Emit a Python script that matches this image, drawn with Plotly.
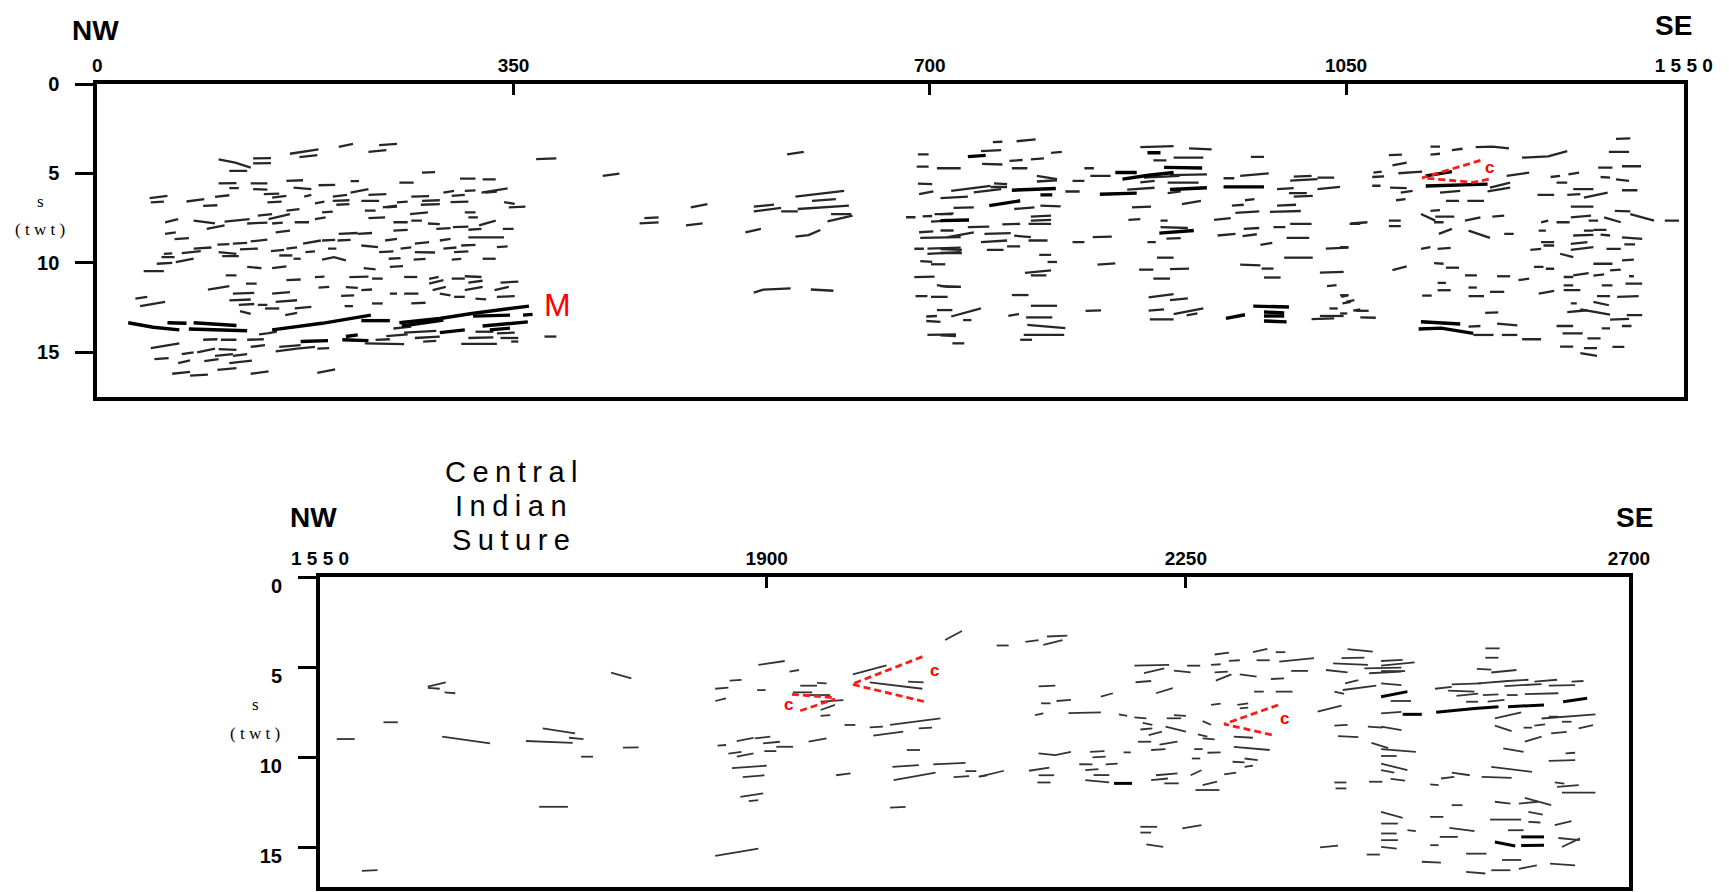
import plotly.graph_objects as go

# ---------------- DATA (distance along profile, two-way time in s) ----------------
# each reflector: x0, t0, x1, t1[, x2, t2, ...]

top_nw = [
    (162,3.90,186,3.66),(170,4.09,185,3.98),(203,3.51,215,3.35),(228,3.79,243,3.70),(237,3.42,252,3.35),
    (102,4.22,116,4.4,129,4.68),(111,4.86,126,4.86),(131,4.16,146,4.14),(131,4.44,146,4.42),(273,4.96,284,4.93),
    (369,4.20,386,4.16),(102,5.56,117,5.54),(111,5.82,119,5.82),(129,5.56,143,5.56),(131,5.88,143,5.91),
    (159,5.42,173,5.38),(165,5.79,180,5.88),(186,5.66,200,5.64),(213,5.43,220,5.43),(254,5.51,266,5.51),
    (305,5.29,318,5.29),(324,5.33,335,5.33),(323,6.07,345,5.83),(44,6.38,59,6.25),(45,6.62,56,6.58),
    (75,6.57,90,6.44),(89,6.81,101,6.78),(99,6.31,111,6.22),(140,6.16,153,6.13),(143,6.62,155,6.58),
    (147,6.35,159,6.25),(174,6.3,180,6.2),(183,6.68,191,6.58),(198,6.53,212,6.5),(198,6.3,210,6.2),
    (201,6.75,212,6.72),(213,6.07,228,5.88),(222,6.53,237,6.53),(228,6.2,243,6.16),(243,6.9,252,6.86),
    (252,6.62,261,6.58),(264,6.3,279,6.27),(273,6.53,288,6.5),(272,6.75,288,6.72),(291,6.07,300,5.98),
    (298,6.25,309,6.2),(297,6.6,312,6.58),(309,5.98,318,5.95),(326,6.07,336,6.01),(342,6.6,351,6.7),
    (346,6.9,360,6.86),
    (57,7.73,68,7.55),(81,7.64,99,7.79),(92,8.1,107,7.9),(107,7.69,128,7.55),(126,7.8,143,7.75),
    (135,7.36,147,7.27),(144,7.55,162,7.27),(147,7.8,156,7.75),(159,7.08,170,7.0),(150,8.3,162,8.2),
    (166,7.73,178,7.73),(183,7.55,192,7.46),(189,7.18,198,7.14),(225,7.08,234,7.08),(228,7.5,242,7.46),
    (240,6.9,252,6.8),(249,7.73,261,7.73),(263,7.27,278,7.18),(264,7.64,273,7.64),(278,7.8,288,7.83),
    (285,8.1,297,8.06),(299,8.0,312,7.97),(309,7.18,318,7.18),(312,7.46,320,7.46),(312,8.15,323,8.1),
    (321,7.9,335,7.64),(341,8.1,350,8.1),(57,8.38,66,8.29),(65,8.67,77,8.62),(101,8.98,111,8.95),
    (114,8.93,126,8.88),(129,8.8,143,8.7),
    (56,9.5,63,9.47),(54,9.68,65,9.68),(71,9.46,87,9.35),(81,9.2,96,9.14),(66,9.96,81,9.77),
    (50,10.05,63,10.0),(39,10.46,56,10.46),(102,9.4,117,9.5),(105,9.62,119,9.62),(120,9.25,135,9.2),
    (146,9.35,157,9.27),(153,9.59,164,9.59),(159,9.2,168,9.14),(165,9.77,171,9.77),(173,8.93,188,8.75),
    (175,9.4,183,9.36),(189,8.75,200,8.71),(194,9.2,201,9.2),(203,8.38,219,8.33),(202,8.75,213,8.71),
    (189,9.82,199,9.68,209,9.86),(219,8.38,231,8.33),(222,9.03,236,9.12),(242,8.75,252,8.66),(237,9.4,249,9.36),
    (245,9.77,255,9.73),(249,8.2,261,8.16),(255,9.2,264,9.14),(267,8.93,279,8.84),(266,9.82,276,9.78),
    (267,9.4,284,9.42),(288,8.75,297,8.66),(291,9.2,302,9.14),(298,9.82,306,9.78),(300,9.4,312,9.36),
    (306,9.03,318,8.99),(312,8.57,342,8.57),(324,9.77,335,9.77),(336,9.12,345,9.08),
    (108,10.7,117,10.7),(126,10.23,138,10.29),(147,10.3,159,10.2),(159,10.97,171,10.93),(183,10.8,191,10.77),
    (212,10.8,228,10.77),(224,10.3,234,10.36),(231,10.88,240,10.88),(246,10.23,257,10.18),(258,10.79,269,10.79),
    (279,10.9,287,10.79),(298,10.88,309,10.88),(309,10.75,323,10.79),(312,11.1,324,11.0),
    (93,11.5,111,11.3),(32,12.0,42,11.9),(36,12.42,57,12.18),(114,11.72,132,11.68),(111,12.1,129,12.05),
    (119,12.35,132,12.3),(120,12.7,129,12.85),(125,11.16,134,11.16),(135,12.35,143,12.35),(141,12.55,153,12.55),
    (147,11.72,162,11.64),(150,12.18,168,12.09),(158,12.92,168,12.79),(166,12.55,180,12.46),(186,11.38,195,11.34),
    (205,11.85,216,11.82),(208,12.42,215,12.42),(209,11.36,219,11.4),(222,11.53,231,11.49),(231,12.27,240,12.27),
    (246,11.72,252,11.72),(258,11.72,270,11.72),(264,12.27,276,12.23),(282,11.53,293,11.34),(279,11.16,291,10.97),
    (288,11.72,297,11.82),(300,11.9,309,11.9),(309,11.53,324,11.34),(318,12.0,327,12.04),(334,11.53,346,11.34),
    (339,11.1,354,11.05),(336,11.9,351,11.86),
    (136,14.0,143,13.94),(249,13.67,264,13.57),(258,13.9,285,13.8),(243,14.1,261,14.0),(234,14.31,246,14.27),
    (225,14.5,258,14.54),(267,14.2,288,14.12),(274,14.4,285,14.36),(318,13.85,333,13.85),(336,13.94,351,13.9),
    (312,14.2,333,14.17),(306,14.53,336,14.53),(339,14.2,354,14.2),(348,14.4,354,14.4),(376,14.12,386,14.12),
    (89,14.3,101,14.27),(104,14.3,117,14.3),(126,14.3,140,14.27),(143,13.94,151,13.85),(45,14.77,69,14.5),
    (48,15.38,60,15.33),(68,15.6,78,15.45),(71,15.1,81,15.0),(84,15.0,99,14.8),(90,15.5,102,15.38),
    (99,15.2,114,15.1),(102,14.82,117,14.86),(111,15.6,130,15.47),(114,15.2,126,15.1),(129,14.7,141,14.6),
    (150,14.95,168,14.8),(153,14.7,171,14.6),(168,14.8,183,14.7),(185,14.8,195,14.77),(63,16.2,78,16.1),
    (78,16.3,93,16.25),(101,15.98,117,15.88),(129,16.2,144,16.07),(185,16.15,200,15.95),
]

top_moho = [
    (26,13.35,47,13.6,69,13.75),(59,13.35,75,13.38),(81,13.35,117,13.5),(77,13.7,126,13.8),
    (147,13.75,189,13.38,230,12.92),(222,13.23,246,13.23),(254,13.35,288,13.11,315,12.83,363,12.42),
    (256,13.53,291,13.2),(316,12.98,347,12.92),(324,13.53,346,13.38,362,13.3),(330,13.75,347,13.65),
    (358,12.92,366,12.88),(171,14.4,194,14.35),(206,14.3,228,14.35),(209,14.12,219,14.03),(288,13.9,309,13.75),
]

top_mid = [
    (425,5.14,439,5.01),(456,7.79,472,7.74),(460,7.5,472,7.46),(499,6.9,513,6.71),(495,7.9,509,7.79),
    (580,3.94,594,3.79),(552,6.86,569,6.75),(552,7.12,575,6.93),(575,7.12,589,7.12),(587,6.3,628,5.97),
    (601,6.53,621,6.44),(589,6.99,632,6.8),(617,7.27,634,7.27),(614,7.68,635,7.36),(545,8.29,558,8.1),
    (587,8.53,598,8.45,608,8.16),(552,11.66,560,11.5,583,11.43),(600,11.49,619,11.56),
]

top_c1 = [
    (690,3.94,699,3.94),(689,4.62,699,4.62),(706,4.71,726,4.71),(690,5.57,702,5.6),(691,6.16,703,6.0),
    (680,7.45,688,7.45),(694,7.4,702,7.38),(701,7.7,726,7.6),(704,7.27,719,7.27),(691,8.29,703,8.24),
    (692,8.6,726,8.56),(687,9.21,695,9.21),(698,9.5,726,9.4),(698,9.2,726,9.15),(692,9.9,702,9.95),
    (701,10.08,713,10.08),(687,10.8,704,10.77),(706,11.25,715,11.34,726,11.34),(688,11.86,698,11.86),
    (701,11.9,715,11.9),(706,12.64,719,12.64),(697,13.0,706,12.97),(697,13.25,709,13.3),(698,14.03,722,14.0),
    (719,14.5,729,14.5),(753,3.25,761,3.23),(773,3.2,789,3.1),(743,3.75,760,3.7),(744,4.47,761,4.5),
    (767,4.3,778,4.25),(785,4.21,796,4.16),(802,3.85,811,3.79),(769,4.71,782,4.71),(790,5.14,807,5.32),
    (790,5.45,807,5.38),(754,5.56,765,5.6),(718,5.97,751,5.7),(737,6.06,760,5.88),(751,5.76,765,5.76),
    (720,6.93,737,6.9),(709,6.38,732,6.3),(771,6.99,788,6.9),(793,6.8,810,6.84),(709,7.27,720,7.23),
    (732,8.0,750,7.97),(761,7.85,776,7.82),(785,7.42,802,7.36),(785,7.64,802,7.6),(709,8.19,720,8.19),
    (715,8.56,737,8.29),(746,8.38,768,8.34),(743,8.84,765,8.75),(771,8.48,785,8.56),(783,8.75,799,8.75),
    (765,9.08,776,9.08),(748,9.27,762,9.27),(709,9.23,727,9.27),(709,9.45,727,9.45),(792,9.55,802,9.55),
    (799,9.95,807,9.95),(780,10.56,802,10.42),(785,10.7,798,10.7),(709,11.3,726,11.34),(769,11.8,783,11.8),
    (718,13.0,743,12.55),(728,13.2,735,13.2),(709,14.05,722,14.1),(766,12.97,775,12.86),(785,12.4,807,12.4),
    (781,13.05,803,13.05),(782,13.47,814,13.65),(779,14.03,813,14.03),(776,14.3,786,14.3),(820,8.84,830,8.84),
    (837,8.56,853,8.53),(831,12.68,844,12.66),(841,10.1,856,10.03),(820,5.42,830,5.42),(814,6.01,826,6.01),
    (830,4.71,838,4.71),(835,5.14,852,5.14),(783,7.82,802,7.82),
]

top_c2 = [
    (866,5.9,889,5.8),(877,5.5,889,5.42),(877,3.53,905,3.47),(918,3.6,937,3.66),(888,4.27,899,4.27),
    (905,4.12,930,4.12),(902,5.1,933,5.05),(880,5.23,910,5.14),(900,5.51,926,5.51),(900,6.1,911,6.0),
    (912,6.71,928,6.53),(870,6.9,886,6.86),(867,7.6,877,7.56),(894,7.64,900,7.64),(894,8.0,917,8.05),
    (883,8.84,890,8.84),(899,8.64,911,8.62),(891,9.71,905,9.71),(876,10.38,888,10.38),(902,10.35,918,10.32),
    (888,10.88,902,10.88),(884,11.93,905,11.75),(902,12.08,917,11.99),(884,12.67,897,12.6),(905,12.86,930,12.55),
    (916,12.93,925,12.82),(885,13.16,905,13.16),(947,5.27,956,5.27),(961,5.14,985,5.0),(970,4.08,981,4.08),
    (992,5.88,1006,5.82),(1003,5.4,1026,5.32),(1006,5.18,1021,5.14),(1026,5.23,1040,5.23),(1002,6.1,1017,6.1),
    (1006,6.3,1022,6.25),(1026,5.88,1045,5.75),(954,6.8,964,6.75),(965,6.5,973,6.44),(957,7.2,977,7.12),
    (986,7.15,1012,7.1),(992,6.8,1008,6.75),(939,7.6,953,7.5),(1003,7.82,1021,7.82),(989,8.0,999,8.0),
    (942,8.47,957,8.38),(963,8.5,975,8.4),(964,8.1,977,8.05),(1000,8.6,1019,8.6),(978,9.0,988,8.88),
    (1033,9.2,1052,9.15),(1053,7.82,1062,7.82),(998,9.71,1022,9.71),(961,10.1,978,10.14),(979,10.32,989,10.32),
    (981,10.82,995,10.82),(1028,10.55,1048,10.5),(1034,11.3,1042,11.25),(1021,13.15,1040,13.1),
    (1028,12.97,1048,12.97),(1036,12.55,1043,12.55),(1047,12.27,1054,12.18),(1046,11.9,1052,11.8),
    (1056,12.67,1062,12.6),
]

top_c_thick = [
    (732,4.06,747,3.99),(709,7.64,733,7.6),(769,5.94,806,5.84),(793,6.2,803,6.2),(750,6.8,776,6.53),
    (856,4.95,874,4.95),(862,5.32,884,5.1,905,4.95),(843,6.16,874,6.1),(883,3.84,894,3.84),
    (897,4.66,929,4.7),(902,5.9,933,5.8),(893,8.34,922,8.19),(947,5.75,981,5.75),
    (949,13.1,965,12.9),(972,12.42,1002,12.47),(981,12.75,998,12.8),(981,12.97,998,12.97),(981,13.25,1000,13.3),
]

top_se = [
    (1086,3.98,1097,3.95),(1121,3.5,1129,3.5),(1121,3.95,1129,3.9),(1139,3.7,1148,3.62),(1159,3.53,1173,3.5,1187,3.6),
    (1198,4.12,1220,4.05,1236,3.75),(1277,3.07,1289,3.04),(1271,3.79,1288,3.79),(1089,4.55,1101,4.4),
    (1094,4.99,1114,4.9),(1073,4.96,1080,4.9),(1072,5.2,1082,5.17),(1072,5.69,1079,5.69),(1087,5.79,1101,5.82),
    (1096,6.07,1106,5.98),(1092,6.5,1100,6.44),(1129,6.07,1146,5.98),(1134,6.53,1145,6.53),(1152,6.53,1166,6.53),
    (1169,6.0,1188,5.79),(1171,5.79,1188,5.51),(1185,5.14,1204,4.96),(1211,6.2,1225,6.2),(1222,5.2,1230,5.14),
    (1227,5.51,1236,5.51),(1237,5.05,1246,4.96),(1236,6.2,1247,6.16),(1241,5.88,1258,5.88),(1250,6.35,1270,6.07),
    (1262,4.68,1274,4.68),(1282,4.6,1298,4.6),(1264,5.2,1272,5.23),(1277,5.33,1288,5.42),(1282,5.94,1295,5.94),
    (1239,6.86,1258,6.86),(1239,7.46,1256,7.36),(1254,7.64,1262,7.64),(1267,7.46,1281,7.73),(1276,7.09,1289,7.12),
    (1289,7.27,1309,7.64),(1318,7.64,1330,7.64),(1054,7.8,1068,7.73),(1086,7.64,1096,7.64),(1086,7.95,1096,7.95),
    (1121,7.09,1129,7.05),(1113,7.27,1125,7.64),(1125,7.42,1141,7.42),(1124,7.73,1132,7.73),(1150,7.64,1163,7.46),
    (1173,7.42,1183,7.36),(1128,8.38,1139,8.1),(1153,8.2,1171,8.6),(1183,8.38,1191,8.38),(1113,9.22,1121,9.12),
    (1127,9.22,1138,9.16),(1045,9.12,1052,9.12),(1089,10.4,1101,10.2),(1124,10.01,1132,10.05),(1134,10.27,1145,10.27),
    (1150,10.7,1160,10.7),(1177,10.75,1188,10.75),(1195,10.97,1204,10.88),(1127,11.12,1134,11.12),(1114,11.83,1122,11.83),
    (1127,11.53,1138,11.53),(1153,11.38,1160,11.38),(1153,11.86,1166,11.86),(1171,11.62,1183,11.62),(1212,11.72,1225,11.57),
    (1233,11.26,1241,11.26),(1233,11.53,1247,11.53),(1239,12.27,1244,12.27),(1236,12.75,1253,12.65),(1247,12.6,1272,12.9),
    (1258,12.18,1271,12.37),(1261,11.86,1272,11.86),(1278,11.9,1296,11.86),(1285,11.16,1299,11.16),(1288,10.75,1292,10.75),
    (1265,11.26,1274,11.26),(1258,10.71,1267,10.64),(1272,10.42,1281,10.38),(1282,9.86,1292,9.82),(1258,10.05,1274,10.05),
    (1269,9.22,1281,9.22),(1284,8.97,1293,8.97),(1282,8.57,1299,8.66),(1264,8.42,1272,8.47),(1258,8.16,1269,8.16),
    (1250,8.2,1258,8.2),(1241,8.47,1258,8.44),(1239,8.94,1253,8.84),(1239,9.27,1258,9.12),(1230,9.49,1241,9.68),
    (1205,9.27,1214,9.22),(1216,9.03,1225,9.03),(1214,8.84,1225,8.84),(1214,7.73,1220,7.64),(1227,7.73,1238,7.73),
    (1212,8.2,1218,8.2),(1218,10.33,1225,10.33),(1208,10.23,1216,10.23),(1233,10.79,1241,10.79),(1241,10.7,1254,10.57),
    (1286,12.92,1299,12.92),(1272,13.17,1288,13.13),(1282,13.53,1290,13.53),(1265,13.66,1272,13.66),(1227,13.53,1241,13.53),
    (1232,13.94,1249,13.94),(1253,14.22,1264,14.22),(1230,14.68,1241,14.68),(1250,14.77,1261,14.77),(1274,14.7,1284,14.7),
    (1247,15.05,1261,15.2),(1157,14.03,1174,14.03),(1181,14.03,1194,14.03),(1198,14.27,1214,14.27),(1153,13.57,1163,13.53),
    (1177,13.4,1194,13.49),(1167,12.8,1178,12.77),(1045,11.81,1052,11.81),(1050,12.18,1057,12.09),(1058,12.68,1069,12.68),
    (1062,13.05,1075,13.07),(1045,12.83,1051,12.83),
]

top_se_thick = [
    (1113,13.29,1146,13.42),(1111,13.7,1130,13.65,1157,13.94),(1117,5.14,1139,4.9),(1117,5.7,1169,5.6),
]

top_wedge = [(1163,4.27,1114,5.25,1157,5.5,1173,5.27)]

bot_w = [
    (1541,8.99,1556,8.99),(1580,8.06,1592,8.06),(1617,6.08,1632,5.84),(1617,6.15,1627,6.2),(1631,6.4,1640,6.45),
    (1629,8.86,1647,9.04,1669,9.23),(1699,9.1,1738,9.2),(1713,8.4,1740,8.68),(1735,8.92,1747,9.0),
    (1710,12.75,1734,12.75),(1562,16.3,1575,16.26),(1745,9.97,1755,9.97),(1780,9.47,1793,9.45),(1770,5.3,1787,5.62),
]

bot_mid = [
    (1893,4.88,1915,4.66),(1919,5.25,1927,5.16),(1869,5.75,1879,5.71),(1857,6.2,1868,6.14),(1857,6.88,1866,6.73),
    (1892,6.28,1899,6.27),(1928,6.03,1942,6.03),(1942,5.87,1950,5.9),(1922,6.4,1938,6.4),(1934,6.55,1953,6.55),
    (1945,6.92,1964,6.83),(1945,7.38,1957,7.1),(1945,7.7,1953,7.66),(1972,5.4,2000,4.9),(1986,5.85,2030,6.2),
    (2018,5.8,2031,5.85),(2049,3.5,2063,3.0),(1965,8.21,1974,8.21),(1986,8.34,1997,8.3),(2003,8.2,2045,7.84),
    (1989,8.8,2014,8.58),(2027,8.4,2038,8.36),(1859,9.36,1866,9.32),(1875,9.1,1889,8.92),(1890,8.95,1903,8.86),
    (1897,9.23,1911,9.14),(1908,9.42,1922,9.42),(1868,9.8,1879,9.7),(1875,9.97,1889,9.79),(1898,9.66,1908,9.66),
    (1935,9.14,1950,8.95),(1871,10.6,1900,10.47),(1880,11.1,1898,11.0),(1878,12.2,1897,12.0),(1885,12.44,1893,12.38),
    (1857,15.47,1880,15.2,1893,15.07),(1958,11.0,1970,10.9),(2017,9.6,2028,9.6),(2005,10.53,2027,10.44),
    (2006,11.27,2041,10.85),(2039,10.4,2066,10.31),(2056,11.1,2069,11.05),(2066,10.77,2075,10.77),(2077,11.08,2084,11.0),
    (2003,12.8,2016,12.75),
]

bot_ce = [
    (2092,3.8,2102,3.8),(2116,3.6,2127,3.5),(2131,3.77,2147,3.5),(2134,3.3,2151,3.25),(2207,4.92,2236,4.88),
    (2215,5.34,2232,5.07),(2240,5.2,2254,5.29),(2251,4.92,2262,4.92),(2208,5.84,2221,5.77),(2225,6.45,2239,6.17),
    (2271,4.88,2279,4.84),(2274,4.3,2286,4.2),(2286,4.65,2295,4.62),(2274,5.29,2285,5.25),(2275,5.75,2288,5.4),
    (2295,5.4,2309,5.53),(2306,4.17,2318,3.99),(2309,4.62,2320,4.62),(2321,5.66,2332,5.62),(2325,4.17,2333,4.17),
    (2328,4.7,2357,4.5),(2338,5.21,2352,5.21),(2307,6.36,2315,6.36),(2325,6.36,2339,6.36),(2127,6.07,2141,6.03),
    (2129,7.01,2137,7.01),(2142,6.88,2154,6.82),(2124,7.66,2131,7.57),(2152,7.55,2179,7.51),(2179,6.64,2189,6.45),
    (2194,7.62,2201,7.7),(2207,7.79,2217,7.84),(2214,8.1,2222,8.21),(2212,8.46,2222,8.4),(2219,8.77,2230,8.58),
    (2210,9.14,2221,9.14),(2221,9.6,2233,9.55),(2228,9.3,2243,9.14),(2233,8.3,2250,8.58),(2234,7.84,2246,7.84),
    (2240,7.66,2250,7.7),(2264,8.0,2271,8.2),(2260,8.73,2268,8.86),(2264,8.95,2274,9.01),(2271,7.1,2279,7.03),
    (2293,7.1,2302,7.01),(2295,7.29,2302,7.25),(2257,9.55,2264,9.55),(2255,10.07,2262,10.07),(2268,9.75,2279,9.73),
    (2290,8.86,2306,8.92),(2290,9.42,2320,9.6),(2289,10.25,2299,10.29),(2299,10.07,2310,10.16),(2299,10.53,2306,10.47),
    (2282,10.95,2292,10.86),(2254,11.0,2263,10.72),(2258,11.82,2278,11.82),(2264,11.55,2276,11.36),(2221,11.27,2235,11.18),
    (2225,11.0,2243,10.9),(2232,11.45,2244,11.45),(2198,9.73,2204,9.73),(2170,9.7,2182,9.66),(2172,10.01,2183,9.97),
    (2161,10.39,2172,10.4),(2166,10.71,2177,10.66),(2183,10.4,2193,10.36),(2173,10.99,2186,10.99),(2166,11.27,2186,11.4),
    (2127,9.79,2141,9.88,2154,9.7),(2119,10.75,2136,10.58),(2127,11.0,2140,11.0),(2126,11.4,2137,11.4),(2078,11.08,2098,10.75),
    (2212,13.86,2226,13.86),(2212,14.18,2221,14.18),(2217,14.84,2231,14.97),(2247,13.95,2263,13.77),(2362,15.0,2377,14.9),
    (2401,15.4,2412,15.4),(2385,4.0,2406,4.14),(2380,4.5,2399,4.47),(2373,4.79,2402,4.88),(2367,5.16,2385,5.29),
    (2399,5.07,2430,5.03),(2403,5.34,2430,5.25),(2383,5.9,2394,5.72),(2381,6.27,2409,6.03),(2374,6.36,2382,6.49),
    (2360,7.47,2380,7.14),(2374,8.25,2385,8.21),(2377,8.83,2394,8.88),(2402,8.3,2414,8.36),(2405,9.2,2419,9.5),
    (2403,11.36,2414,11.36),(2374,11.4,2384,11.4),(2375,11.73,2384,11.73),
]

bot_e = [
    (2500,3.96,2512,3.96),(2500,4.48,2511,4.48),(2493,5.1,2505,5.14),(2505,5.3,2526,5.16),(2413,4.66,2431,4.6),
    (2413,4.92,2441,4.74),(2413,5.22,2433,5.22),(2413,5.9,2430,6.0),(2421,6.88,2438,6.88),(2413,7.57,2430,7.48),
    (2458,6.2,2472,6.1),(2469,6.3,2491,6.36),(2472,5.96,2497,5.9),(2494,5.9,2519,5.77),(2516,6.05,2547,5.94),
    (2519,5.77,2536,5.7),(2541,5.8,2560,5.7),(2553,6.03,2575,6.0),(2572,5.8,2582,5.77),(2476,6.6,2494,6.47),
    (2498,6.55,2511,6.51),(2518,6.55,2527,6.55),(2533,6.5,2561,6.45),(2484,6.92,2494,6.92),(2502,6.92,2516,6.82),
    (2508,7.85,2530,7.51),(2547,7.85,2592,7.62),(2553,7.75,2561,7.75),(2564,8.03,2572,8.03),(2508,8.25,2522,8.55),
    (2532,8.36,2539,8.36),(2541,8.25,2550,8.18),(2555,8.68,2568,8.59),(2578,8.4,2590,8.22),(2533,9.14,2547,8.86),
    (2515,9.51,2532,9.7),(2553,10.2,2575,10.16),(2567,9.79,2575,9.75),(2505,10.53,2539,10.81),(2497,11.09,2522,11.14),
    (2463,11.18,2474,11.09),(2472,10.85,2487,11.0),(2454,11.51,2461,11.55),(2558,11.4,2566,11.46),(2560,11.65,2578,11.55),
    (2564,11.96,2592,11.96),(2472,12.66,2481,12.66),(2508,12.47,2521,12.57),(2528,12.57,2544,12.47),(2533,12.25,2555,12.66),
    (2536,13.03,2548,13.18),(2454,13.31,2465,13.31),(2504,13.46,2530,13.46),(2536,13.59,2546,13.62),(2558,13.77,2572,13.55),
    (2470,13.92,2491,14.1),(2435,14.05,2442,14.1),(2519,14.05,2532,14.05),(2462,14.42,2477,14.42),(2454,14.88,2461,14.88),
    (2484,15.35,2501,15.35),(2514,15.7,2530,15.7),(2447,15.8,2463,15.85),(2505,16.27,2521,16.27),(2528,16.2,2543,16.0),
    (2554,15.9,2575,16.0),(2484,16.36,2500,16.45),(2413,8.3,2430,8.5),(2413,9.55,2442,9.7),(2413,9.93,2426,9.93),
    (2413,10.35,2435,10.72),(2413,10.72,2424,10.85),(2421,11.2,2433,11.3),(2413,13.03,2431,13.36),(2413,13.68,2427,13.68),
    (2413,14.23,2426,14.23),(2413,14.6,2427,14.6),(2413,14.97,2426,15.07),(2564,14.98,2579,14.5),(2561,14.48,2579,14.6),
]

bot_thick = [
    (2190,11.45,2205,11.45),(2413,6.64,2435,6.36),(2431,7.62,2447,7.62),(2459,7.51,2491,7.29,2511,7.2),
    (2519,7.2,2549,7.1),(2565,6.92,2585,6.73),(2508,14.7,2525,14.92),(2530,14.42,2549,14.42),(2530,14.9,2549,14.88),
]

bot_wedges = [
    (1921,6.51,1957,6.7),(1928,7.42,1957,6.77),
    (2030,4.42,1971,5.95,2032,6.92),
    (2327,7.1,2282,8.16,2325,8.81),
]

top_ticks = [0, 350, 700, 1050, 1334]
top_ticktext = ["0", "350", "700", "1050", "1 5 5 0"]
bot_ticks = [1527, 1900, 2250, 2620]
bot_ticktext = ["1 5 5 0", "1900", "2250", "2700"]
twt_ticks = [0, 5, 10, 15]
c_labels_top = [(1171, 4.68)]
c_labels_bot = [(1918, 7.1), (2040, 5.16), (2332, 7.84)]

# ---------------- FIGURE ----------------
# page body keeps an 8px margin; the figure fills the rest of the 1729x892 window
OFF = 8
W, H = 1729 - 2 * OFF, 892 - OFF


def px(v):
    return (v - OFF) / W


def py(v):
    return 1 - (v - OFF) / H


def xy(groups):
    xs, ys = [], []
    for segs in groups:
        for s in segs:
            xs.extend(s[0::2]); ys.extend(s[1::2])
            xs.append(None); ys.append(None)
    return xs, ys


fig = go.Figure()


def add(groups, color, width, xa, ya, dash="solid"):
    x, y = xy(groups)
    fig.add_trace(go.Scatter(x=x, y=y, mode="lines", xaxis=xa, yaxis=ya,
                             line=dict(color=color, width=width, dash=dash),
                             hoverinfo="skip", showlegend=False))


add([top_nw, top_mid, top_c1, top_c2, top_se], "#262626", 2.3, "x", "y")
add([top_moho, top_c_thick, top_se_thick], "#000000", 3.4, "x", "y")
add([top_wedge], "#ff1a1a", 2.8, "x", "y", dash="7px,4px")
add([bot_w, bot_mid, bot_ce, bot_e], "#333333", 1.8, "x2", "y2")
add([bot_thick], "#000000", 3.0, "x2", "y2")
add([bot_wedges], "#ff1a1a", 2.8, "x2", "y2", dash="7px,4px")

FONT = "Arial, Liberation Sans, sans-serif"
tickfont = dict(family=FONT, size=19, color="black", weight="bold")

common_x = dict(showline=True, linewidth=4, linecolor="black", mirror=True, showgrid=False,
                zeroline=False, side="top", ticks="inside", ticklen=11, tickwidth=2.5,
                tickcolor="black", tickfont=tickfont)
common_y = dict(showline=True, linewidth=4, linecolor="black", mirror=True, showgrid=False,
                zeroline=False, ticks="outside", ticklen=18, tickwidth=3, tickcolor="black",
                tickvals=twt_ticks, ticktext=[str(v) for v in twt_ticks],
                tickfont=dict(family=FONT, size=20, color="black", weight="bold"),
                ticklabelstandoff=12)

fig.update_layout(
    width=W, height=H, margin=dict(l=0, r=0, t=0, b=0, pad=0, autoexpand=False),
    paper_bgcolor="white", plot_bgcolor="white",
    xaxis=dict(domain=[px(97.3), px(1683.8)], range=[0, 1334], anchor="y", automargin=False,
               tickvals=top_ticks, ticktext=top_ticktext, **common_x),
    yaxis=dict(domain=[py(397), py(84)], range=[17.5, 0], anchor="x", automargin=False,
               **common_y),
    xaxis2=dict(domain=[px(320), px(1629)], range=[1527, 2620], anchor="y2", automargin=False,
                tickvals=bot_ticks, ticktext=bot_ticktext, **common_x),
    yaxis2=dict(domain=[max(0, py(887)), py(577)], range=[17.2, 0], anchor="x2", automargin=False,
                ticklabelshift=-9, **common_y),
)

ann = []


def label(text, x, y, size, bold=False, color="black", family=FONT, yanchor="middle"):
    ann.append(dict(text=text, x=px(x), y=min(1, py(y)), xref="paper", yref="paper",
                    showarrow=False, xanchor="center", yanchor=yanchor,
                    font=dict(family=family, size=size, color=color,
                              weight="bold" if bold else "normal")))


label("NW", 95, 30, 28, bold=True)
label("SE", 1673, OFF, 28, bold=True, yanchor="top")
label("NW", 313, 518, 28, bold=True)
label("SE", 1634, 518, 28, bold=True)
SERIF = "Liberation Serif, Times New Roman, serif"
label("s", 40, 201, 17, family=SERIF)
label("( t w t )", 40, 229, 17, family=SERIF)
label("s", 255, 704, 17, family=SERIF)
label("( t w t )", 255, 733, 17, family=SERIF)
for i, word in enumerate(["Central", "Indian", "Suture"]):
    label('<span style="letter-spacing:6.5px">' + word + '</span>', 514, 472 + 34 * i, 29)

ann.append(dict(text="M", x=387, y=12.36, xref="x", yref="y", showarrow=False,
                font=dict(family=FONT, size=32, color="#ff0000")))
for cx, cy in c_labels_top:
    ann.append(dict(text="c", x=cx, y=cy, xref="x", yref="y", showarrow=False,
                    font=dict(family=FONT, size=17, color="#ff0000", weight="bold")))
for cx, cy in c_labels_bot:
    ann.append(dict(text="c", x=cx, y=cy, xref="x2", yref="y2", showarrow=False,
                    font=dict(family=FONT, size=17, color="#ff0000", weight="bold")))

fig.update_layout(annotations=ann)
fig.write_html("out.html")
